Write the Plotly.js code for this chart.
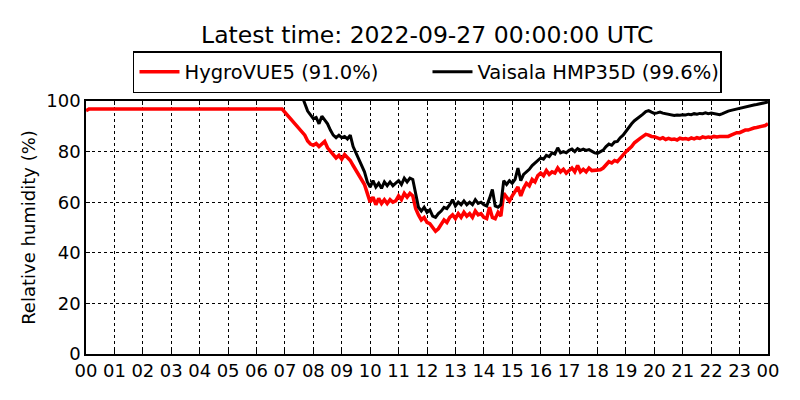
<!DOCTYPE html>
<html>
<head>
<meta charset="utf-8">
<script src="https://cdn.plot.ly/plotly-3.0.1.min.js"></script>
<style>
  body { margin: 0; background: #fff; }
  #rh-diagram { width: 800px; height: 400px; }
</style>
</head>
<body>
<div id="rh-diagram"></div>
<script>
// Hour ticks for one day
const tickHours = [0,1,2,3,4,5,6,7,8,9,10,11,12,13,14,15,16,17,18,19,20,21,22,23,24];
const tickLabels = ['00','01','02','03','04','05','06','07','08','09','10','11','12',
    '13','14','15','16','17','18','19','20','21','22','23','00'];

// HygroVUE5 readings (hour of day, %)
const hygroHours = [0.0,0.1,6.9,
    7.0,7.1,7.2,7.3,7.4,7.5,7.6,7.7,7.8,7.9,
    8.0,8.1,8.2,8.3,8.4,8.5,8.6,8.7,8.8,8.9,
    9.0,9.1,9.2,9.3,9.4,9.5,9.6,9.7,9.8,9.9,
    10.0,10.1,10.2,10.3,10.4,10.5,10.6,10.7,10.8,10.9,
    11.0,11.1,11.2,11.3,11.4,11.5,11.6,11.7,11.8,11.9,
    12.0,12.1,12.2,12.3,12.4,12.5,12.6,12.7,12.8,12.9,
    13.0,13.1,13.2,13.3,13.4,13.5,13.6,13.7,13.8,13.9,
    14.0,14.1,14.2,14.3,14.4,14.5,14.6,14.7,14.8,14.9,
    15.0,15.1,15.2,15.3,15.4,15.5,15.6,15.7,15.8,15.9,
    16.0,16.1,16.2,16.3,16.4,16.5,16.6,16.7,16.8,16.9,
    17.0,17.1,17.2,17.3,17.4,17.5,17.6,17.7,17.8,17.9,
    18.0,18.1,18.2,18.3,18.4,18.5,18.6,18.7,18.8,18.9,
    19.0,19.1,19.2,19.3,19.4,19.5,19.6,19.7,19.8,19.9,
    20.0,20.1,20.2,20.3,20.4,20.5,20.6,20.7,20.8,20.9,
    21.0,21.1,21.2,21.3,21.4,21.5,21.6,21.7,21.8,21.9,
    22.0,22.1,22.2,22.3,22.4,22.5,22.6,22.7,22.8,22.9,
    23.0,23.1,23.2,23.3,23.4,23.5,23.6,23.7,23.8,23.9,24.0];
const hygroRH = [96.2,96.8,96.8,
    95.5,94.2,93.0,91.5,90.0,89.2,87.8,86.5,84.2,83.0,
    82.5,83.2,82.0,82.8,84.0,81.5,80.0,78.5,77.5,78.5,
    77.0,78.8,77.5,76.5,74.5,72.5,71.0,69.0,67.0,63.5,
    60.0,62.0,59.0,61.5,59.5,61.0,59.5,61.0,60.0,60.5,
    62.5,61.0,63.5,62.0,63.5,62.5,57.5,55.0,53.0,54.0,
    52.0,51.5,50.0,48.5,49.5,51.5,53.0,52.0,54.0,55.0,
    53.5,55.5,54.0,56.0,54.5,55.5,54.0,56.5,55.0,55.5,
    54.0,53.5,58.0,54.0,53.5,56.0,54.5,63.5,62.0,60.5,
    62.5,64.0,66.0,62.5,65.5,67.5,66.5,69.0,68.0,70.5,
    71.5,70.5,72.5,71.0,72.0,71.5,73.5,72.0,73.0,71.5,
    72.5,73.5,72.0,74.5,72.0,73.0,72.0,73.5,72.5,72.5,
    72.5,72.8,73.5,75.0,76.0,75.5,76.5,76.0,77.5,78.5,
    80.0,81.0,82.0,83.5,84.5,85.2,86.0,86.8,86.5,86.0,
    85.9,85.5,85.0,85.5,84.8,85.2,84.8,85.0,84.6,85.3,
    85.0,85.2,84.8,85.4,85.0,85.5,85.2,85.8,85.5,85.8,
    85.6,86.0,85.8,86.0,86.0,86.2,86.0,86.5,87.0,87.5,
    87.5,88.0,88.5,88.5,89.0,89.3,89.5,89.8,90.0,90.3,91.0];

// Vaisala HMP35D readings (hour of day, %)
const vaisalaHours = [7.65,7.7,7.8,7.9,
    8.0,8.1,8.2,8.3,8.4,8.5,8.6,8.7,8.8,8.9,
    9.0,9.1,9.2,9.3,9.4,9.5,9.6,9.7,9.8,9.9,
    10.0,10.1,10.2,10.3,10.4,10.5,10.6,10.7,10.8,10.9,
    11.0,11.1,11.2,11.3,11.4,11.5,11.6,11.7,11.8,11.9,
    12.0,12.1,12.2,12.3,12.4,12.5,12.6,12.7,12.8,12.9,
    13.0,13.1,13.2,13.3,13.4,13.5,13.6,13.7,13.8,13.9,
    14.0,14.1,14.2,14.3,14.4,14.5,14.6,14.7,14.8,14.9,
    15.0,15.1,15.2,15.3,15.4,15.5,15.6,15.7,15.8,15.9,
    16.0,16.1,16.2,16.3,16.4,16.5,16.6,16.7,16.8,16.9,
    17.0,17.1,17.2,17.3,17.4,17.5,17.6,17.7,17.8,17.9,
    18.0,18.1,18.2,18.3,18.4,18.5,18.6,18.7,18.8,18.9,
    19.0,19.1,19.2,19.3,19.4,19.5,19.6,19.7,19.8,19.9,
    20.0,20.1,20.2,20.3,20.4,20.5,20.6,20.7,20.8,20.9,
    21.0,21.1,21.2,21.3,21.4,21.5,21.6,21.7,21.8,21.9,
    22.0,22.1,22.2,22.3,22.4,22.5,22.6,22.7,22.8,22.9,
    23.0,23.1,23.2,23.3,23.4,23.5,23.6,23.7,23.8,23.9,24.0];
const vaisalaRH = [100.5,99.0,96.0,94.5,
    93.0,93.5,91.0,94.0,92.5,91.0,88.5,86.5,85.5,86.5,
    85.5,86.0,85.0,86.5,82.0,79.5,76.5,74.0,72.0,68.0,
    66.0,68.5,66.0,67.5,65.5,68.0,66.5,68.0,66.5,67.5,
    68.5,67.0,69.5,68.0,69.5,69.0,64.0,58.0,56.5,58.0,
    56.0,57.0,54.5,54.0,55.5,56.5,58.0,57.5,59.0,61.0,
    58.5,60.0,59.0,60.5,59.0,60.0,59.0,61.0,59.5,60.0,
    59.0,58.5,61.5,65.0,58.5,58.0,59.0,68.5,67.0,68.5,
    67.5,69.0,73.5,68.5,71.0,72.0,73.0,74.5,75.5,76.5,
    77.5,77.0,78.5,78.0,79.5,79.0,81.5,79.5,80.0,79.5,
    80.5,81.0,80.0,81.2,80.5,81.0,80.5,80.8,80.0,79.5,
    79.3,79.8,80.6,82.0,83.0,82.5,83.8,84.0,85.5,86.5,
    88.0,89.8,91.0,92.2,93.0,93.8,94.8,95.8,96.2,95.6,
    95.1,95.3,95.6,95.2,94.9,94.6,94.5,94.3,94.5,94.4,
    94.6,94.5,94.8,94.6,95.0,94.8,95.1,95.0,95.3,95.0,
    95.2,95.0,94.8,94.6,95.0,95.6,96.0,96.3,96.6,96.9,
    97.1,97.4,97.7,98.0,98.2,98.4,98.6,98.8,99.1,99.3,99.6];

const latestTime = '2022-09-27 00:00:00 UTC';

let hygro = {
    x: hygroHours,
    y: hygroRH,
    name: 'HygroVUE5 (' + hygroRH[hygroRH.length - 1].toFixed(1) + '%)',
    type: 'scatter',
    mode: 'lines',
    line: {
        color: '#ff0000',
        width: 3.5
    }
}

let vaisala = {
    x: vaisalaHours,
    y: vaisalaRH,
    name: 'Vaisala HMP35D (' + vaisalaRH[vaisalaRH.length - 1].toFixed(1) + '%)',
    type: 'scatter',
    mode: 'lines',
    line: {
        color: '#000000',
        width: 3
    }
}

let data = [hygro, vaisala];

// Layout of the chart
let layout = {
    width: 800,
    height: 400,
    paper_bgcolor: '#fff',
    plot_bgcolor: '#fff',
    font: {
        family: 'DejaVu Sans, sans-serif',
        size: 18,
        color: '#000'
    },
    title: {
        text: 'Latest time: ' + latestTime,
        font: {
            family: 'DejaVu Sans, sans-serif',
            size: 23.5
        },
        x: 0.534,
        xanchor: 'center',
        y: 0.912,
        yanchor: 'middle'
    },
    showlegend: true,
    legend: {
        orientation: 'h',
        x: 0.0689,
        xanchor: 'left',
        y: 0.82,
        yref: 'container',
        yanchor: 'middle',
        bordercolor: '#000',
        borderwidth: 1.5,
        bgcolor: '#fff',
        font: {
            family: 'DejaVu Sans, sans-serif',
            size: 19.5
        },
        itemwidth: 40,
        entrywidth: 238,
        traceorder: 'normal'
    },
    xaxis: {
        range: [0, 24],
        tickvals: tickHours,
        ticktext: tickLabels,
        ticks: 'inside',
        ticklen: 4,
        tickcolor: '#000',
        showline: true,
        linecolor: '#000',
        linewidth: 1.5,
        mirror: 'ticks',
        showgrid: true,
        gridcolor: '#000',
        griddash: 'dot',
        gridwidth: 1,
        zeroline: false,
        tickfont: { size: 18 }
    },
    yaxis: {
        range: [0, 100],
        tickvals: [0, 20, 40, 60, 80, 100],
        ticks: 'inside',
        ticklen: 4,
        tickcolor: '#000',
        showline: true,
        linecolor: '#000',
        linewidth: 1.5,
        mirror: 'ticks',
        showgrid: true,
        gridcolor: '#000',
        griddash: 'dot',
        gridwidth: 1,
        zeroline: false,
        tickfont: { size: 18 },
        title: {
            text: 'Relative humidity (%)',
            font: { size: 18 },
            standoff: 6
        }
    },
    margin: {
        l: 86,
        r: 32,
        t: 101,
        b: 46,
        autoexpand: false
    }
}

// General chart configuration
let config = {
    displayModeBar: false,
    responsive: false
}

let htmlElement = document.getElementById('rh-diagram');
htmlElement.innerHTML = '';
Plotly.newPlot(htmlElement, data, layout, config);
</script>
</body>
</html>
